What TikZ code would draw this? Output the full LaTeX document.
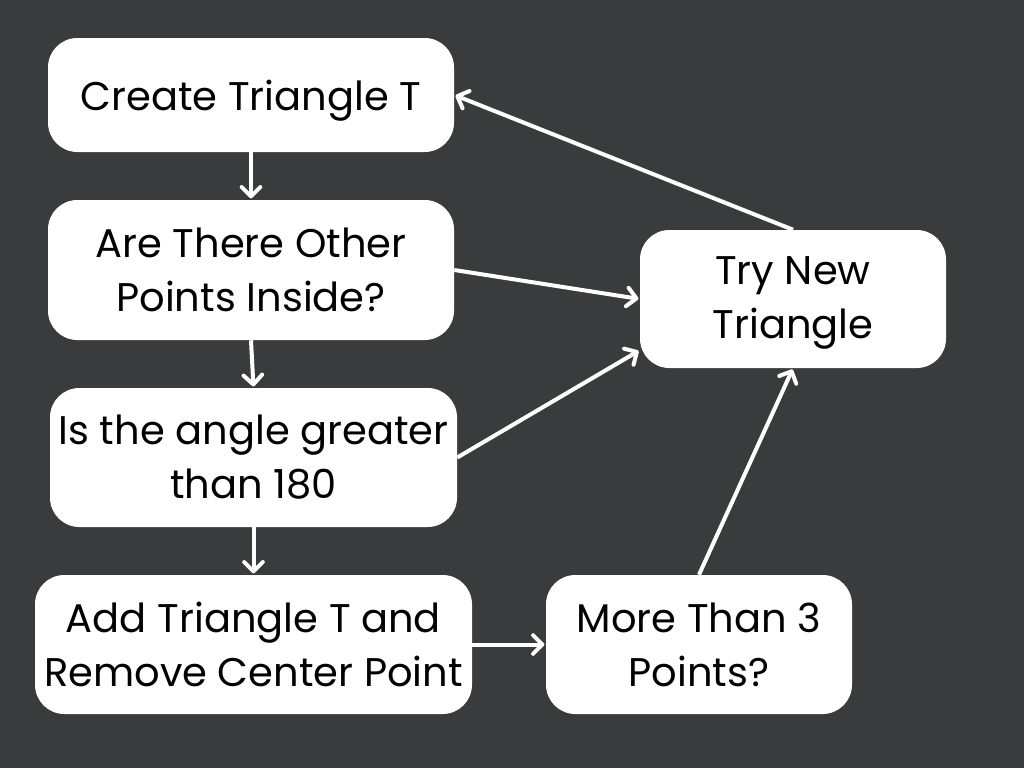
\documentclass[tikz,border=0pt]{standalone}
\usepackage{fontspec}
\setmainfont{Poppins}
\usetikzlibrary{arrows.meta,calc}
\definecolor{bg}{HTML}{3A3B3D}
\newcommand{\lowertext}[2]{\raisebox{-#1}[\height][\depth]{#2}}
\begin{document}
\begin{tikzpicture}[x=0.75pt,y=-0.75pt,
  box/.style={draw=none,fill=white,rounded corners=22pt,align=center,inner sep=0pt,
    font=\fontsize{30pt}{40.5pt}\selectfont,text=black},
  conn/.style={draw=white,line width=3pt,-{Straight Barb[length=7pt,width=14pt,line width=3pt,round]},shorten >=1pt}
]
\fill[bg] (0,0) rectangle (1024,768);
\useasboundingbox (0,0) rectangle (1024,768);
\node[box,minimum width=304.5pt,minimum height=85.5pt] (n1) at (251,95) {\lowertext{4pt}{Create Triangle T}};
\node[box,minimum width=304.5pt,minimum height=105pt] (n2) at (251,270) {Are There Other\\Points Inside?};
\node[box,minimum width=305.25pt,minimum height=104.25pt] (n3) at (253.5,457.5) {Is the angle greater\\than 180};
\node[box,minimum width=327.75pt,minimum height=104.25pt] (n4) at (253.5,644.5) {Add Triangle T and\\Remove Center Point};
\node[box,minimum width=229.5pt,minimum height=104.25pt] (n5) at (699,644.5) {More Than 3\\Points?};
\node[box,minimum width=229.5pt,minimum height=103.5pt] (n6) at (793,299) {\lowertext{3pt}{Try New}\\\lowertext{3pt}{Triangle}};
\coordinate (n6sw) at ($(n6.south west)+(0,-18)$);
\draw[conn] (n1.south) -- (n2.north);
\draw[conn] (n2.south) -- (n3.north);
\draw[conn] (n3.south) -- (n4.north);
\draw[conn] (n4.east) -- (n5.west);
\draw[conn] (n2.east) -- (n6.west);
\draw[conn] (n3.east) -- (n6sw);
\draw[conn] (n5.north) -- (n6.south);
\draw[conn] (n6.north) -- (n1.east);
\end{tikzpicture}
\end{document}
